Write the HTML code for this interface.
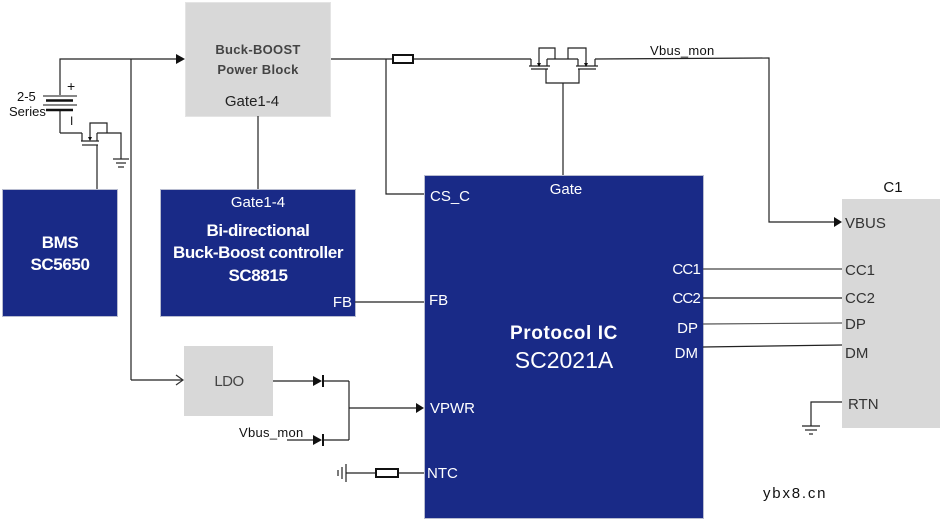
<!DOCTYPE html>
<html><head><meta charset="utf-8"><style>
html,body{margin:0;padding:0;background:#fff;}
svg{display:block;}
text{font-family:"Liberation Sans",sans-serif;}
</style></head><body>
<svg width="942" height="522" viewBox="0 0 942 522" xmlns="http://www.w3.org/2000/svg">
<rect width="942" height="522" fill="#fff"/>

<!-- Boxes -->
<rect x="185.5" y="2.5" width="145" height="114" fill="#d8d8d8" stroke="#e4e4e4"/>
<rect x="2.5" y="189.5" width="115" height="127" fill="#192a87" stroke="#b8bcd0"/>
<rect x="160.5" y="189.5" width="195" height="127" fill="#192a87" stroke="#b8bcd0"/>
<rect x="424.5" y="175.5" width="279" height="343" fill="#192a87" stroke="#b8bcd0"/>
<rect x="184" y="346" width="89" height="70" fill="#d8d8d8"/>
<rect x="842" y="199" width="98" height="229" fill="#d8d8d8"/>

<g stroke="#222" stroke-width="1.2" fill="none">
<!-- top rail -->
<polyline points="60,95 60,59 178,59"/>
<line x1="131" y1="59" x2="131" y2="380"/>
<line x1="131" y1="380" x2="183" y2="380"/>
<polyline points="176,375 183,380 176,385" stroke="#333"/>
<!-- battery -->
<line x1="60" y1="110" x2="60" y2="133"/>
<polyline points="60,133 82,133"/>
<line x1="82" y1="133" x2="82" y2="141"/>
<line x1="97" y1="133" x2="97" y2="141"/>
<line x1="81" y1="141" x2="99" y2="141"/>
<line x1="82" y1="145" x2="98" y2="145"/>
<line x1="97" y1="145" x2="97" y2="189"/>
<polyline points="90,140 90,123 107,123 107,133"/>
<polyline points="97,133 121,133 121,159"/>
<!-- ground left -->
<line x1="113" y1="159" x2="129" y2="159"/>
<line x1="116" y1="163" x2="126" y2="163"/>
<line x1="118" y1="167" x2="124" y2="167"/>
<!-- buck to protocol -->
<line x1="258" y1="116" x2="258" y2="189"/>
<line x1="331" y1="59" x2="392" y2="59"/>
<polyline points="386,59 386,194 424,194"/>
<line x1="413" y1="59" x2="531" y2="59"/>
<!-- mosfets -->
<line x1="531" y1="59" x2="531" y2="66"/>
<line x1="547" y1="59" x2="547" y2="66"/>
<line x1="529" y1="66" x2="550" y2="66"/>
<line x1="531" y1="69" x2="548" y2="69"/>
<polyline points="539,66 539,48 555,48 555,59"/>
<line x1="547" y1="59" x2="578" y2="59"/>
<line x1="578" y1="59" x2="578" y2="66"/>
<line x1="595" y1="59" x2="595" y2="66"/>
<line x1="576" y1="66" x2="598" y2="66"/>
<line x1="578" y1="69" x2="596" y2="69"/>
<polyline points="568,59 568,48 586,48 586,66"/>
<polyline points="546,69 546,83 579,83 579,69"/>
<line x1="563" y1="83" x2="563" y2="175"/>
<polyline points="595,59 769,58 769,222 835,222"/>
<!-- FB -->
<line x1="355" y1="302" x2="424" y2="302"/>
<!-- LDO / VPWR -->
<line x1="273" y1="381" x2="313" y2="381"/>
<line x1="322" y1="381" x2="349" y2="381"/>
<line x1="287" y1="440" x2="313" y2="440"/>
<line x1="322" y1="440" x2="349" y2="440"/>
<line x1="349" y1="381" x2="349" y2="440"/>
<line x1="349" y1="408" x2="417" y2="408"/>
<!-- NTC -->
<line x1="346" y1="473" x2="375" y2="473"/>
<line x1="398" y1="473" x2="424" y2="473"/>
<line x1="346" y1="464" x2="346" y2="482"/>
<line x1="342" y1="467" x2="342" y2="479"/>
<line x1="338" y1="470" x2="338" y2="476"/>
<!-- right pins -->
<line x1="703" y1="269" x2="842" y2="269" stroke="#444"/>
<line x1="703" y1="298" x2="842" y2="298"/>
<line x1="703" y1="324" x2="842" y2="323" stroke="#555"/>
<line x1="703" y1="347" x2="842" y2="345"/>
<polyline points="842,402 811,402 811,426"/>
<line x1="802" y1="426" x2="820" y2="426"/>
<line x1="805" y1="430" x2="817" y2="430"/>
<line x1="809" y1="434" x2="813" y2="434"/>
</g>

<!-- battery plates -->
<g stroke="#111" fill="none">
<line x1="43" y1="96" x2="77" y2="96" stroke-width="1"/>
<line x1="46" y1="100.5" x2="73" y2="100.5" stroke-width="2.5"/>
<line x1="43" y1="105" x2="77" y2="105" stroke-width="1"/>
<line x1="46" y1="110" x2="73" y2="110" stroke-width="2.5"/>
</g>
<!-- resistors -->
<rect x="393" y="55" width="20" height="8" fill="#fff" stroke="#111" stroke-width="2"/>
<rect x="376" y="469" width="22" height="8" fill="#fff" stroke="#111" stroke-width="2"/>

<!-- arrowheads -->
<g fill="#111">
<polygon points="176,54 185,59 176,64"/>
<polygon points="834,217 842,222 834,227"/>
<polygon points="416,403 424,408 416,413"/>
<polygon points="313,376 322,381 313,386"/>
<polygon points="313,435 322,440 313,445"/>
<polygon points="537,63 541,63 539,67"/>
<polygon points="584,63 588,63 586,67"/>
<polygon points="88,137 92,137 90,141"/>
</g>
<g stroke="#111" stroke-width="2">
<line x1="323" y1="375" x2="323" y2="387"/>
<line x1="323" y1="434" x2="323" y2="446"/>
</g>

<!-- text -->
<g font-size="13" fill="#111">
<text x="17" y="101">2-5</text>
<text x="9" y="116">Series</text>
<text x="67" y="91" font-size="14">+</text>
<text x="70" y="125" font-size="12">I</text>
</g>
<g fill="#444" font-weight="bold" font-size="13" letter-spacing="0.3" text-anchor="middle">
<text x="258" y="54">Buck-BOOST</text>
<text x="258" y="74">Power Block</text>
</g>
<text x="252" y="106" font-size="15" fill="#222" text-anchor="middle">Gate1-4</text>
<text x="229" y="386" font-size="15" fill="#444" text-anchor="middle" letter-spacing="-0.5">LDO</text>
<text x="239" y="437" font-size="13" fill="#111" letter-spacing="0.3">Vbus_mon</text>
<text x="650" y="55" font-size="13" fill="#111" letter-spacing="0.3">Vbus_mon</text>

<g fill="#fff" font-weight="bold" text-anchor="middle" font-size="17" letter-spacing="-0.4">
<text x="60" y="248">BMS</text>
<text x="60" y="270">SC5650</text>
<text x="258" y="236">Bi-directional</text>
<text x="258" y="258">Buck-Boost controller</text>
<text x="258" y="281">SC8815</text>
</g>
<text x="258" y="207" font-size="15" fill="#fff" text-anchor="middle">Gate1-4</text>
<text x="352" y="307" font-size="15" fill="#fff" text-anchor="end">FB</text>

<g fill="#fff" font-size="15">
<text x="430" y="201">CS_C</text>
<text x="429" y="305">FB</text>
<text x="430" y="413">VPWR</text>
<text x="427" y="478">NTC</text>
<text x="566" y="194" text-anchor="middle">Gate</text>
<text x="700" y="274" text-anchor="end" letter-spacing="-0.8">CC1</text>
<text x="700" y="303" text-anchor="end" letter-spacing="-0.8">CC2</text>
<text x="698" y="333" text-anchor="end">DP</text>
<text x="698" y="358" text-anchor="end">DM</text>
</g>
<text x="564" y="339" font-size="19" font-weight="bold" fill="#fff" text-anchor="middle" letter-spacing="0.6">Protocol  IC</text>
<text x="564" y="368" font-size="23" fill="#fff" text-anchor="middle">SC2021A</text>

<g fill="#333" font-size="15">
<text x="845" y="228">VBUS</text>
<text x="845" y="275">CC1</text>
<text x="845" y="303">CC2</text>
<text x="845" y="329">DP</text>
<text x="845" y="358">DM</text>
<text x="848" y="409">RTN</text>
</g>
<text x="893" y="192" font-size="15" fill="#111" text-anchor="middle">C1</text>
<text x="763" y="498" font-family="Liberation Mono, monospace" font-size="15" fill="#111" letter-spacing="1.8">ybx8.cn</text>
</svg>
</body></html>
